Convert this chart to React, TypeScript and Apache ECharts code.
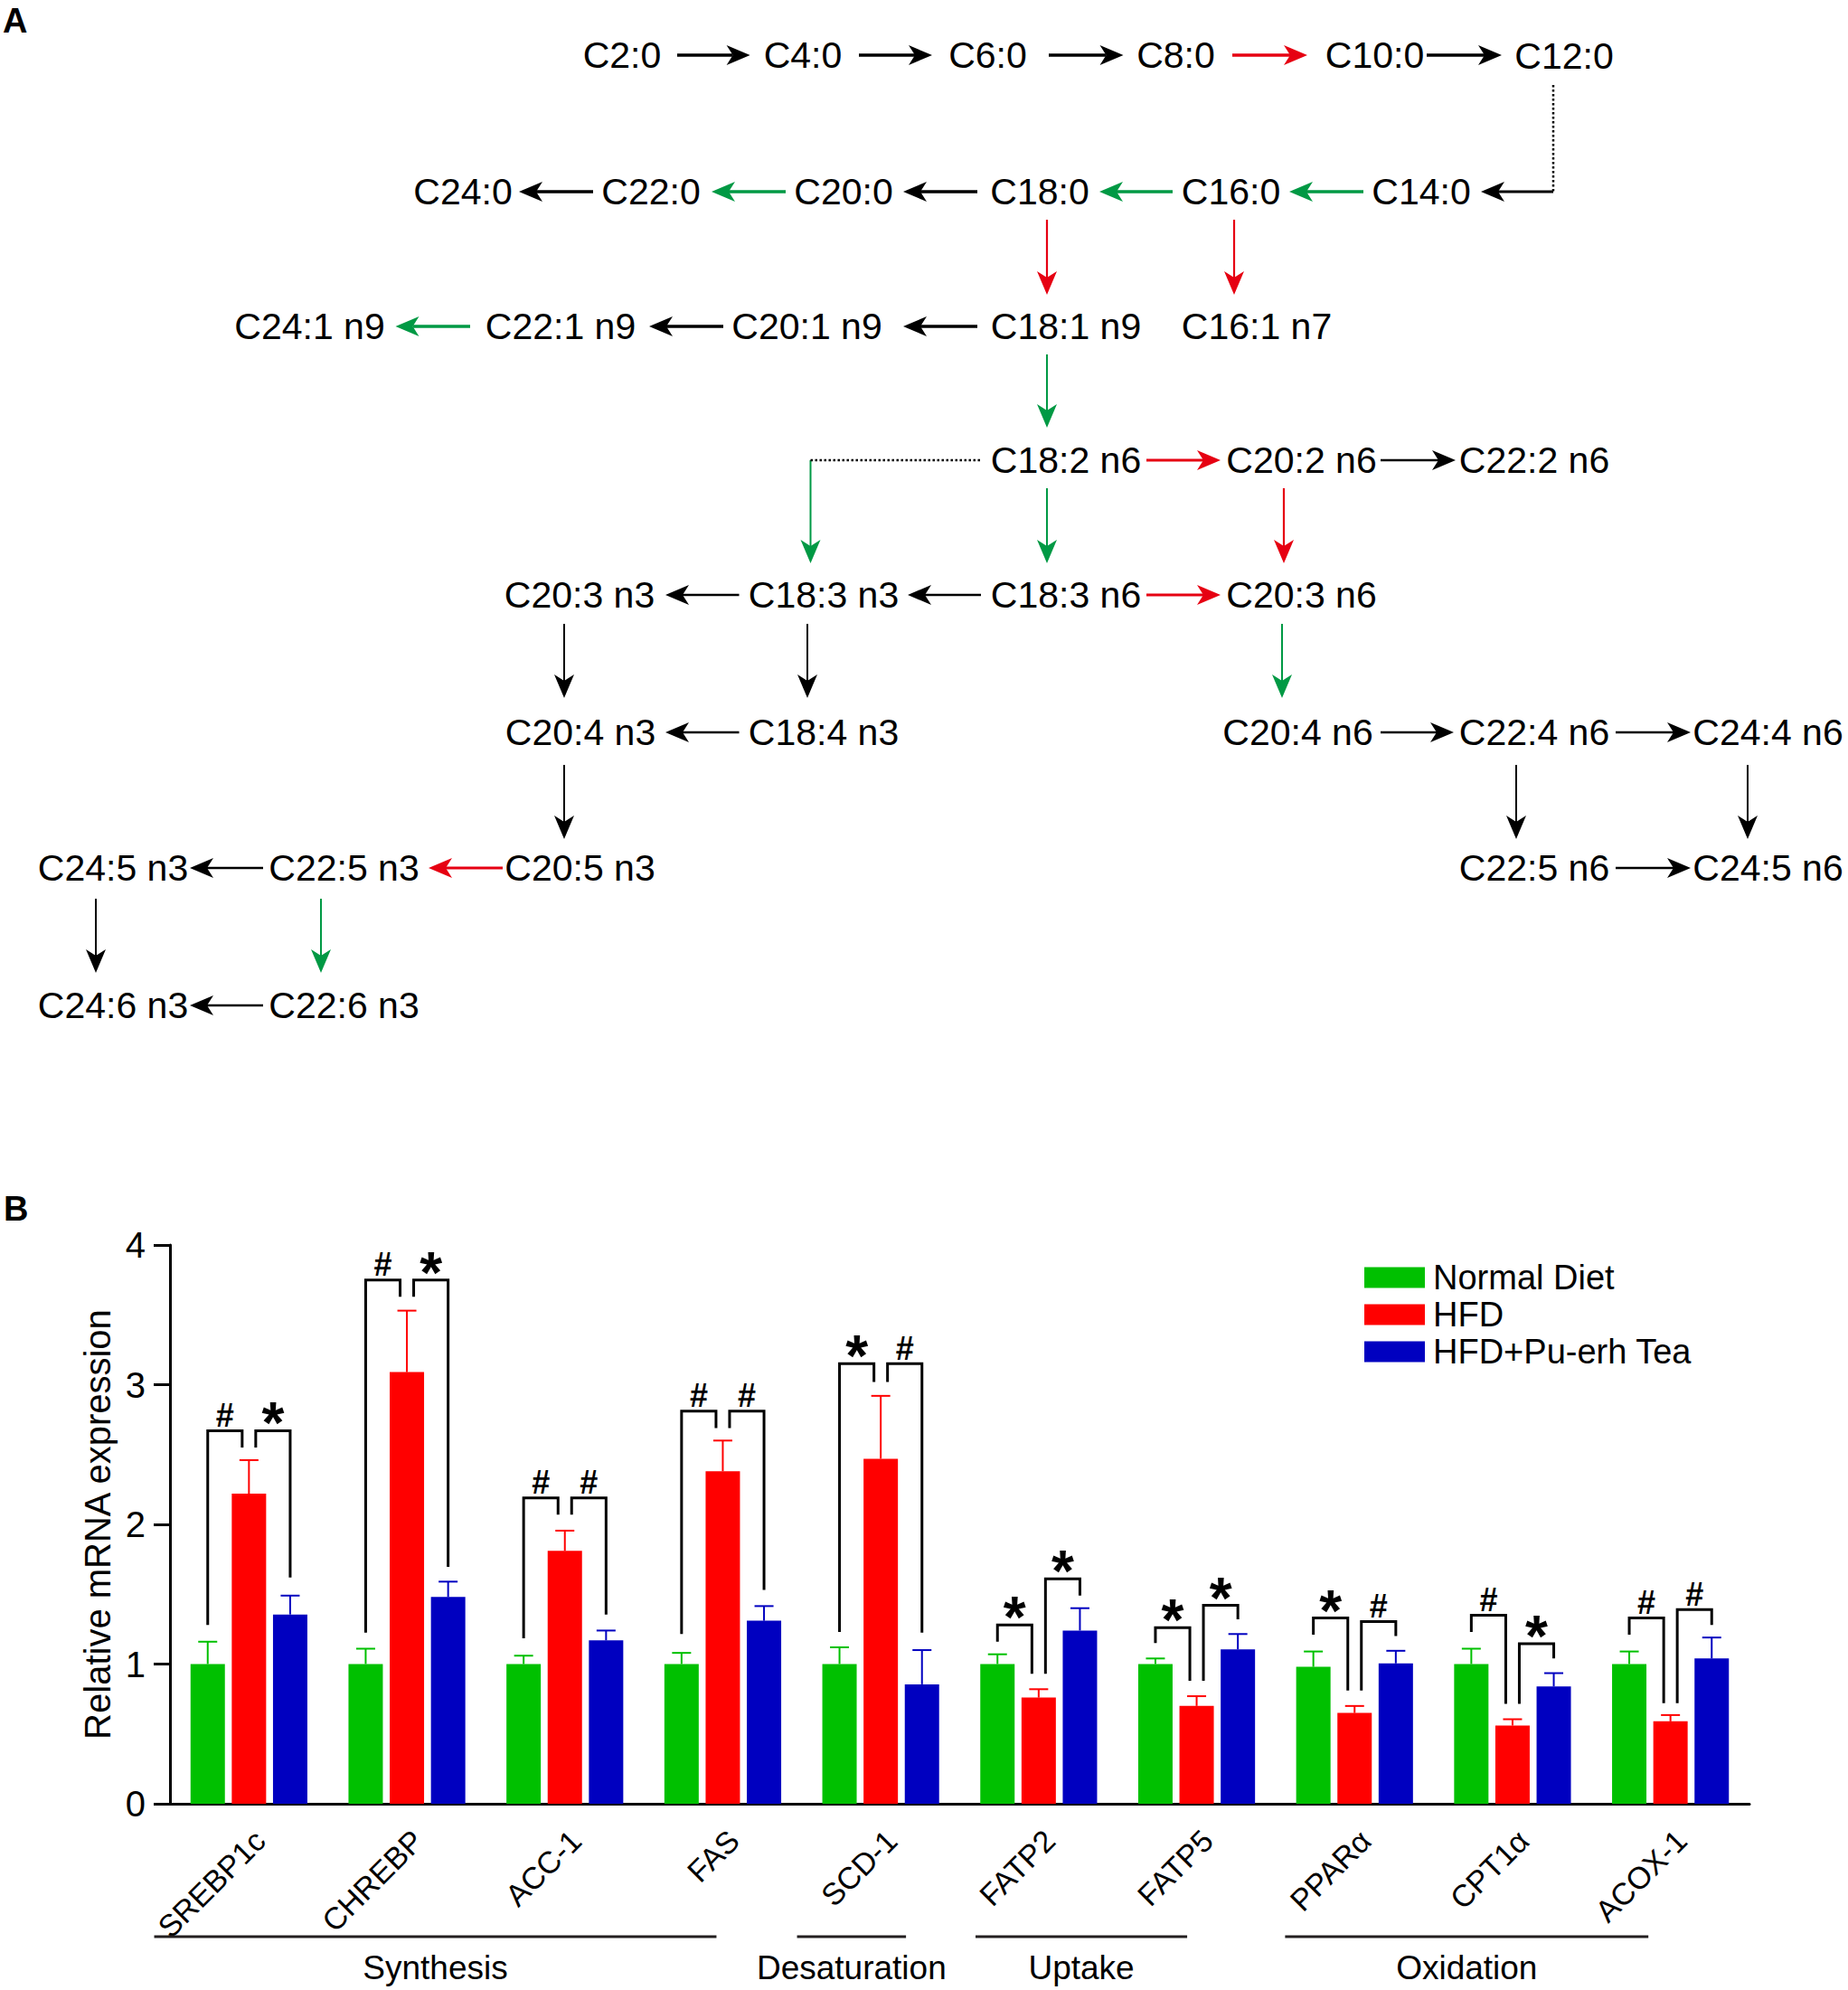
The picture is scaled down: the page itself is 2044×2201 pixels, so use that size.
import React, { useEffect, useRef } from 'react';
import * as echarts from 'echarts';

const FONT = '"Liberation Sans", Arial, Helvetica, sans-serif';

// ---------- Panel A: pathway diagram (diagram coordinates) ----------
const nodeLabels = [
  'C2:0', 'C4:0', 'C6:0', 'C8:0', 'C10:0', 'C12:0',
  'C24:0', 'C22:0', 'C20:0', 'C18:0', 'C16:0', 'C14:0',
  'C24:1 n9', 'C22:1 n9', 'C20:1 n9', 'C18:1 n9', 'C16:1 n7',
  'C18:2 n6', 'C20:2 n6', 'C22:2 n6',
  'C20:3 n3', 'C18:3 n3', 'C18:3 n6', 'C20:3 n6',
  'C20:4 n3', 'C18:4 n3', 'C20:4 n6', 'C22:4 n6', 'C24:4 n6',
  'C24:5 n3', 'C22:5 n3', 'C20:5 n3', 'C22:5 n6', 'C24:5 n6',
  'C24:6 n3', 'C22:6 n3',
];
const nodeX = [
  688, 888, 1092.5, 1300.5, 1520.5, 1730,
  512, 720, 933, 1150, 1361.5, 1572,
  342.5, 620, 892.5, 1179, 1390,
  1179, 1439.5, 1697,
  641, 911, 1179, 1439.5,
  642, 911, 1435.5, 1697, 1955.5,
  125, 380.5, 641.5, 1697, 1955.5,
  125, 380.5,
];
const nodeY = [
  61, 61, 61, 61, 61, 62,
  212, 212, 212, 212, 212, 212,
  361, 361, 361, 361, 361,
  509, 509, 509,
  658, 658, 658, 658,
  810, 810, 810, 810, 810,
  960, 960, 960, 960, 960,
  1112, 1112,
];
// arrows: [x1, y1, x2(tip), y2(tip), colour index, line width]
const arrows = [
  [749, 61, 829.6, 61, 0, 3.5],
  [950, 61, 1031, 61, 0, 3.5],
  [1160, 61, 1242.5, 61, 0, 3.5],
  [1363, 61, 1446, 61, 1, 3.5],
  [1578, 61, 1661, 61, 0, 3.5],
  [1718, 212, 1638, 212, 0, 3],
  [1508, 212, 1426, 212, 2, 3.5],
  [1297, 212, 1216, 212, 2, 3.5],
  [1081, 212, 999, 212, 0, 3.5],
  [869, 212, 787, 212, 2, 3.5],
  [656, 212, 574, 212, 0, 3.5],
  [1158, 243, 1158, 326, 1, 2.2],
  [1365, 243, 1365, 326, 1, 2.2],
  [1081, 361, 999, 361, 0, 3.5],
  [800, 361, 718, 361, 0, 3.5],
  [520, 361, 437.5, 361, 2, 3.5],
  [1158, 392, 1158, 473, 2, 2],
  [896.5, 509, 896.5, 623, 2, 2],
  [1268, 509, 1350, 509, 1, 3],
  [1527, 509, 1610, 509, 0, 2.5],
  [1158, 540, 1158, 623, 2, 2],
  [1420, 540, 1420, 623, 1, 2.2],
  [1085, 658, 1004, 658, 0, 2.5],
  [817.5, 658, 736, 658, 0, 2.5],
  [1268, 658, 1350, 658, 1, 3],
  [624, 690, 624, 772, 0, 2],
  [893, 690, 893, 772, 0, 2],
  [1418, 690, 1418, 772, 2, 2],
  [817.5, 810, 736, 810, 0, 2.5],
  [1527, 810, 1608, 810, 0, 2.5],
  [1787, 810, 1870, 810, 0, 2.5],
  [624, 846, 624, 928, 0, 2],
  [1677, 846, 1677, 928, 0, 2],
  [1933, 846, 1933, 928, 0, 2],
  [556, 960, 474, 960, 1, 3],
  [291, 960, 210, 960, 0, 2.5],
  [1787, 960, 1870, 960, 0, 2.5],
  [106, 994, 106, 1076, 0, 2],
  [355, 994, 355, 1076, 2, 2],
  [291, 1112, 210, 1112, 0, 2.5],
];
const dottedLinks = [
  [1718, 94, 1718, 212],
  [1084, 509, 896.5, 509],
];
const ARROW_COLORS = ['#000000', '#E60012', '#009944'];

// ---------- Panel B: bar chart ----------
const categories = ['SREBP1c', 'CHREBP', 'ACC-1', 'FAS', 'SCD-1', 'FATP2', 'FATP5', 'PPARα', 'CPT1α', 'ACOX-1'];
const seriesNames = ['Normal Diet', 'HFD', 'HFD+Pu-erh Tea'];
const normalMean = [1.0, 1.0, 1.0, 1.0, 1.0, 1.0, 1.0, 0.98, 1.0, 1.0];
const normalSem = [0.16, 0.11, 0.06, 0.08, 0.12, 0.07, 0.04, 0.11, 0.11, 0.09];
const hfdMean = [2.22, 3.09, 1.81, 2.38, 2.47, 0.76, 0.7, 0.65, 0.56, 0.59];
const hfdSem = [0.24, 0.44, 0.145, 0.22, 0.45, 0.06, 0.07, 0.05, 0.045, 0.045];
const teaMean = [1.355, 1.48, 1.17, 1.31, 0.855, 1.24, 1.105, 1.005, 0.84, 1.04];
const teaSem = [0.135, 0.11, 0.07, 0.105, 0.245, 0.16, 0.11, 0.09, 0.095, 0.15];

// significance brackets (Normal vs HFD, HFD vs Tea)
const bracket1Top = [2.67, 3.75, 2.19, 2.81, 3.15, 1.28, 1.26, 1.33, 1.35, 1.33];
const bracket1Left = [1.28, 1.225, 1.185, 1.215, 1.23, 1.16, 1.15, 1.21, 1.23, 1.21];
const bracket1Right = [2.55, 3.63, 2.07, 2.69, 3.02, 0.93, 0.88, 0.81, 0.715, 0.72];
const sign1 = ['#', '#', '#', '#', '*', '*', '*', '*', '#', '#'];
const bracket2Top = [2.67, 3.75, 2.19, 2.81, 3.15, 1.61, 1.42, 1.305, 1.145, 1.39];
const bracket2Left = [2.55, 3.63, 2.07, 2.69, 3.02, 0.93, 0.88, 0.81, 0.715, 0.72];
const bracket2Right = [1.62, 1.695, 1.355, 1.53, 1.225, 1.49, 1.32, 1.2, 1.04, 1.28];
const sign2 = ['*', '*', '#', '#', '#', '*', '*', '#', '*', '#'];

const groupNames = ['Synthesis', 'Desaturation', 'Uptake', 'Oxidation'];
// extents in category-index units (centre of category i = i)
const groupLineStart = [-0.6, 3.47, 4.6, 6.56];
const groupLineEnd = [2.96, 4.16, 5.94, 8.86];

const BAR_COLORS = ['#00C000', '#FF0000', '#0000C0'];
const BAR_W = 38;
const BAR_GAP = 7.6;
const BAR_STEP = BAR_W + BAR_GAP;
const INNER = 7.5;

function arrowItem(params: any, api: any) {
  const p1 = api.coord([api.value(0), api.value(1)]);
  const p2 = api.coord([api.value(2), api.value(3)]);
  const color = ARROW_COLORS[api.value(4)];
  const w = api.value(5);
  const dx = p2[0] - p1[0];
  const dy = p2[1] - p1[1];
  const len = Math.sqrt(dx * dx + dy * dy) || 1;
  const ux = dx / len;
  const uy = dy / len;
  const px = -uy;
  const py = ux;
  const L = 26;
  const W = 11;
  const N = 7;
  const bx = p2[0] - ux * L;
  const by = p2[1] - uy * L;
  const nx = p2[0] - ux * (L - N);
  const ny = p2[1] - uy * (L - N);
  return {
    type: 'group',
    children: [
      { type: 'line', shape: { x1: p1[0], y1: p1[1], x2: nx, y2: ny }, style: { stroke: color, lineWidth: w } },
      {
        type: 'polygon',
        shape: { points: [[p2[0], p2[1]], [bx + px * W, by + py * W], [nx, ny], [bx - px * W, by - py * W]] },
        style: { fill: color },
      },
    ],
  };
}

function buildOption() {
  const groupsData = [
    { mean: normalMean, sem: normalSem },
    { mean: hfdMean, sem: hfdSem },
    { mean: teaMean, sem: teaSem },
  ];
  const barSeries = groupsData.map((g, s) => ({
    type: 'bar',
    name: seriesNames[s],
    xAxisIndex: 1,
    yAxisIndex: 1,
    data: g.mean,
    barWidth: BAR_W,
    barGap: (BAR_GAP / BAR_W) * 100 + '%',
    itemStyle: { color: BAR_COLORS[s] },
    z: 2,
  }));
  const errSeries = groupsData.map((g, s) => ({
    type: 'custom',
    xAxisIndex: 1,
    yAxisIndex: 1,
    silent: true,
    z: 3,
    data: g.mean.map((m, i) => [i, m, m + g.sem[i]]),
    renderItem: (params: any, api: any) => {
      const base = api.coord([api.value(0), api.value(1)]);
      const top = api.coord([api.value(0), api.value(2)]);
      const x = base[0] + (s - 1) * BAR_STEP;
      const st = { stroke: BAR_COLORS[s], lineWidth: 2 };
      return {
        type: 'group',
        children: [
          { type: 'line', shape: { x1: x, y1: base[1], x2: x, y2: top[1] }, style: st },
          { type: 'line', shape: { x1: x - 10.5, y1: top[1], x2: x + 10.5, y2: top[1] }, style: st },
        ],
      };
    },
  }));

  const bracketData: number[][] = [];
  const bracketSigns: string[] = [];
  categories.forEach((_, i) => {
    bracketData.push([i, bracket1Top[i], bracket1Left[i], bracket1Right[i], 0]);
    bracketSigns.push(sign1[i]);
    bracketData.push([i, bracket2Top[i], bracket2Left[i], bracket2Right[i], 1]);
    bracketSigns.push(sign2[i]);
  });

  return {
    animation: false,
    backgroundColor: '#ffffff',
    textStyle: { fontFamily: FONT },
    graphic: [
      { type: 'text', left: 3, top: 4, style: { text: 'A', fontSize: 38, fontWeight: 'bold', fontFamily: FONT, fill: '#000' } },
      { type: 'text', left: 4, top: 1318, style: { text: 'B', fontSize: 38, fontWeight: 'bold', fontFamily: FONT, fill: '#000' } },
    ],
    legend: {
      orient: 'vertical',
      left: 1509,
      top: 1394,
      padding: 0,
      itemWidth: 67,
      itemHeight: 23,
      itemGap: 3,
      icon: 'rect',
      data: seriesNames,
      textStyle: { fontSize: 38, color: '#000', fontFamily: FONT, padding: [0, 0, 0, 4] },
    },
    grid: [
      { left: 0, top: 0, width: 2044, height: 1200 },
      { left: 188, right: 109, top: 1377, bottom: 206 },
    ],
    xAxis: [
      { type: 'value', gridIndex: 0, min: 0, max: 2044, show: false },
      {
        type: 'category',
        gridIndex: 1,
        data: categories,
        axisLine: { lineStyle: { color: '#000', width: 3 } },
        axisTick: { alignWithLabel: true, length: 18, lineStyle: { color: '#000', width: 3 } },
        axisLabel: { rotate: 45, interval: 0, fontSize: 34, color: '#000', margin: 23, align: 'right', verticalAlign: 'top' },
      },
    ],
    yAxis: [
      { type: 'value', gridIndex: 0, min: 0, max: 1200, inverse: true, show: false },
      {
        type: 'value',
        gridIndex: 1,
        min: 0,
        max: 4,
        interval: 1,
        name: 'Relative mRNA expression',
        nameLocation: 'middle',
        nameGap: 54,
        nameTextStyle: { fontSize: 40, color: '#000' },
        axisLine: { show: true, lineStyle: { color: '#000', width: 3 } },
        axisTick: { show: true, length: 18, lineStyle: { color: '#000', width: 3 } },
        axisLabel: { fontSize: 40, color: '#000', margin: 27 },
        splitLine: { show: false },
      },
    ],
    series: [
      {
        type: 'custom',
        xAxisIndex: 0,
        yAxisIndex: 0,
        silent: true,
        data: nodeX.map((x, i) => [x, nodeY[i]]),
        renderItem: (params: any, api: any) => {
          const p = api.coord([api.value(0), api.value(1)]);
          return {
            type: 'text',
            x: p[0],
            y: p[1],
            style: {
              text: nodeLabels[params.dataIndex],
              align: 'center',
              verticalAlign: 'middle',
              fontSize: 41,
              fontFamily: FONT,
              fill: '#000',
            },
          };
        },
      },
      {
        type: 'custom',
        xAxisIndex: 0,
        yAxisIndex: 0,
        silent: true,
        data: arrows,
        renderItem: arrowItem,
      },
      {
        type: 'custom',
        xAxisIndex: 0,
        yAxisIndex: 0,
        silent: true,
        data: dottedLinks,
        renderItem: (params: any, api: any) => {
          const p1 = api.coord([api.value(0), api.value(1)]);
          const p2 = api.coord([api.value(2), api.value(3)]);
          return {
            type: 'line',
            shape: { x1: p1[0], y1: p1[1], x2: p2[0], y2: p2[1] },
            style: { stroke: '#000', lineWidth: 2.5, lineDash: [2.5, 2.5] },
          };
        },
      },
      ...barSeries,
      ...errSeries,
      {
        type: 'custom',
        xAxisIndex: 1,
        yAxisIndex: 1,
        silent: true,
        z: 4,
        data: bracketData,
        renderItem: (params: any, api: any) => {
          const i = api.value(0);
          const side = api.value(4);
          const c = api.coord([i, api.value(1)]);
          const lb = api.coord([i, api.value(2)]);
          const rb = api.coord([i, api.value(3)]);
          const xl = c[0] + (side === 0 ? -BAR_STEP : INNER);
          const xr = c[0] + (side === 0 ? -INNER : BAR_STEP);
          const sign = bracketSigns[params.dataIndex];
          const star = sign === '*';
          return {
            type: 'group',
            children: [
              {
                type: 'polyline',
                shape: { points: [[xl, lb[1]], [xl, c[1]], [xr, c[1]], [xr, rb[1]]] },
                style: { stroke: '#000', lineWidth: 3, fill: null },
              },
              {
                type: 'text',
                x: (xl + xr) / 2,
                y: star ? c[1] - 8 : c[1] - 17,
                style: {
                  text: sign,
                  align: 'center',
                  verticalAlign: 'middle',
                  fontSize: star ? 64 : 36,
                  fontWeight: 'bold',
                  fontFamily: FONT,
                  fill: '#000',
                },
              },
            ],
          };
        },
      },
      {
        type: 'custom',
        xAxisIndex: 1,
        yAxisIndex: 1,
        silent: true,
        clip: false,
        data: groupNames.map((_, i) => [i, 0]),
        renderItem: (params: any, api: any) => {
          const k = params.dataIndex;
          const c0 = api.coord([0, 0]);
          const bw = api.size([1, 0])[0];
          const xs = c0[0] + groupLineStart[k] * bw;
          const xe = c0[0] + groupLineEnd[k] * bw;
          const y = c0[1];
          return {
            type: 'group',
            children: [
              { type: 'line', shape: { x1: xs, y1: y + 147, x2: xe, y2: y + 147 }, style: { stroke: '#231f20', lineWidth: 3 } },
              {
                type: 'text',
                x: (xs + xe) / 2,
                y: y + 181,
                style: { text: groupNames[k], align: 'center', verticalAlign: 'middle', fontSize: 37, fontFamily: FONT, fill: '#000' },
              },
            ],
          };
        },
      },
    ],
  };
}

export default function App() {
  const ref = useRef<HTMLDivElement>(null);
  useEffect(() => {
    document.body.style.margin = '0';
    const chart = echarts.init(ref.current as HTMLDivElement, null, { renderer: 'svg' });
    chart.setOption(buildOption() as any);
    return () => {
      chart.dispose();
    };
  }, []);
  return <div ref={ref} style={{ width: 2044, height: 2201 }} />;
}
